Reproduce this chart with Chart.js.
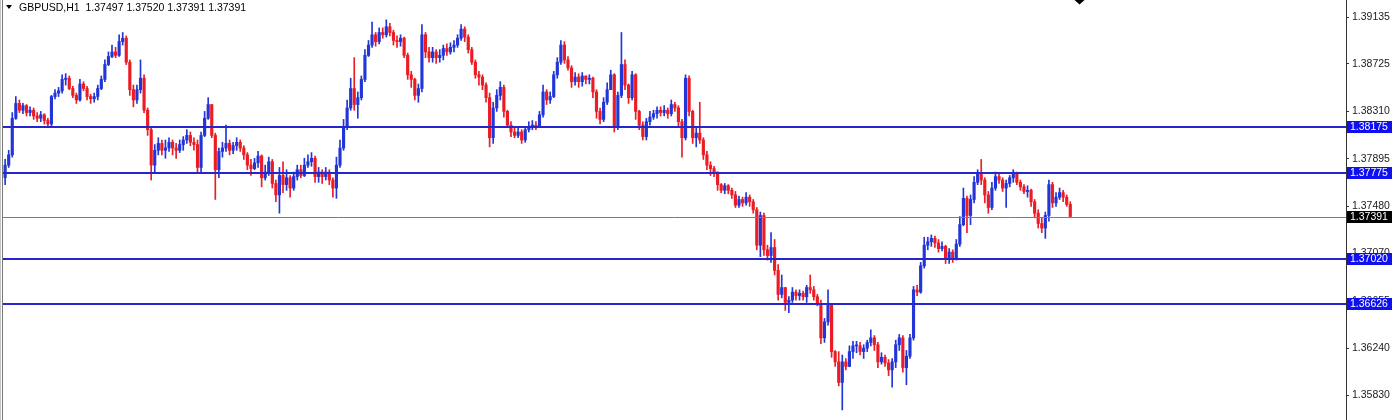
<!DOCTYPE html>
<html lang="en">
<head>
<meta charset="UTF-8">
<title>GBPUSD,H1</title>
<style>
  html, body { margin: 0; padding: 0; background: #fff; }
  #wrap { width: 1400px; height: 420px; position: relative; }
</style>
</head>
<body>
<div id="wrap"><canvas id="chart" width="1400" height="420"></canvas></div>
<script src="https://cdn.jsdelivr.net/npm/chart.js"></script>
<script>
// GBPUSD H1 candles (open = previous close)
const symbolTitle = 'GBPUSD,H1';
const lastOHLC = [1.37497, 1.37520, 1.37391, 1.37391];
const firstOpen = 1.3773;

const closes = [
  1.3784,1.3793,1.3825,1.3838,1.3832,1.3836,1.3830,1.3832,1.3827,1.3825,
  1.3828,1.3823,1.3820,1.3844,1.3847,1.3849,1.3859,1.3860,1.3851,1.3845,
  1.3841,1.3855,1.3851,1.3844,1.3842,1.3844,1.3851,1.3859,1.3872,1.3879,
  1.3883,1.3880,1.3892,1.3895,1.3874,1.3850,1.3841,1.3850,1.3860,1.3832,
  1.3815,1.3784,1.3797,1.3803,1.3797,1.3799,1.3804,1.3799,1.3797,1.3802,
  1.3806,1.3810,1.3804,1.3802,1.3782,1.3810,1.3825,1.3837,1.3810,1.3780,
  1.3796,1.3799,1.3803,1.3797,1.3801,1.3804,1.3799,1.3793,1.3784,1.3781,
  1.3786,1.3792,1.3773,1.3778,1.3787,1.3768,1.3758,1.3775,1.3767,1.3773,
  1.3764,1.3774,1.3780,1.3775,1.3784,1.3787,1.3790,1.3774,1.3778,1.3774,
  1.3778,1.3771,1.3764,1.3784,1.3799,1.3817,1.3834,1.3851,1.3837,1.3843,
  1.3859,1.3880,1.3889,1.3898,1.3892,1.3900,1.3898,1.3905,1.3900,1.3893,
  1.3892,1.3895,1.3880,1.3863,1.3859,1.3845,1.3851,1.3898,1.3883,1.3878,
  1.3883,1.3878,1.3880,1.3886,1.3883,1.3887,1.3889,1.3895,1.3903,1.3896,
  1.3885,1.3874,1.3863,1.3861,1.3854,1.3843,1.3808,1.3834,1.3845,1.3852,
  1.3831,1.3819,1.3813,1.3810,1.3813,1.3806,1.3815,1.3817,1.3819,1.3817,
  1.3828,1.3848,1.3841,1.3844,1.3863,1.3874,1.3889,1.3876,1.3869,1.3857,
  1.3861,1.3857,1.3862,1.3859,1.3860,1.3848,1.3831,1.3824,1.3839,1.3850,
  1.3863,1.3817,1.3845,1.3872,1.3854,1.3843,1.3863,1.3831,1.3819,1.3809,
  1.3822,1.3826,1.3829,1.3832,1.3830,1.3832,1.3829,1.3837,1.3834,1.3822,
  1.3808,1.3860,1.3831,1.3808,1.3812,1.3806,1.3793,1.3784,1.3781,1.3778,
  1.3767,1.3762,1.3766,1.3762,1.3758,1.3749,1.3754,1.3751,1.3756,1.3752,
  1.3745,1.3714,1.3740,1.3710,1.3705,1.3712,1.3692,1.3671,1.3677,1.3664,
  1.3666,1.3673,1.3670,1.3672,1.3669,1.3677,1.3675,1.3669,1.3663,1.3633,
  1.3647,1.3662,1.3621,1.3612,1.3594,1.3612,1.3608,1.3621,1.3626,1.3626,
  1.3621,1.3624,1.3629,1.3633,1.3627,1.3612,1.3616,1.3611,1.3605,1.3612,
  1.3627,1.3633,1.3607,1.3617,1.3633,1.3675,1.3673,1.3696,1.3714,1.3717,
  1.3720,1.3716,1.3711,1.3713,1.3703,1.3708,1.3703,1.3715,1.3732,1.3755,
  1.3740,1.3754,1.3769,1.3776,1.3771,1.3758,1.3747,1.3764,1.3774,1.3771,
  1.3764,1.3768,1.3773,1.3777,1.3769,1.3765,1.3761,1.3762,1.3752,1.3742,
  1.3733,1.3729,1.3740,1.3767,1.3751,1.3756,1.3760,1.3756,1.37497,1.37391
];

const highs = [
  1.3789,1.3797,1.3830,1.3844,1.3841,1.3838,1.3837,1.3835,1.3834,1.3830,
  1.3831,1.3829,1.3825,1.3845,1.3850,1.3852,1.3863,1.3864,1.3862,1.3853,
  1.3847,1.3859,1.3857,1.3853,1.3846,1.3847,1.3854,1.3862,1.3876,1.3883,
  1.3889,1.3887,1.3898,1.3900,1.3897,1.3876,1.3854,1.3854,1.3876,1.3863,
  1.3834,1.3817,1.3802,1.3808,1.3806,1.3806,1.3808,1.3806,1.3803,1.3806,
  1.3809,1.3815,1.3813,1.3808,1.3806,1.3813,1.3831,1.3843,1.3837,1.3812,
  1.3799,1.3804,1.3819,1.3806,1.3804,1.3808,1.3806,1.3801,1.3795,1.3789,
  1.3790,1.3796,1.3793,1.3784,1.3791,1.3789,1.3771,1.3782,1.3787,1.3780,
  1.3775,1.3778,1.3784,1.3784,1.3790,1.3793,1.3795,1.3792,1.3782,1.3780,
  1.3782,1.3780,1.3773,1.3791,1.3806,1.3824,1.3841,1.3860,1.3878,1.3848,
  1.3862,1.3885,1.3893,1.3909,1.3900,1.3904,1.3904,1.3911,1.3908,1.3902,
  1.3897,1.3898,1.3896,1.3882,1.3866,1.3860,1.3855,1.3907,1.3900,1.3887,
  1.3887,1.3885,1.3885,1.3889,1.3890,1.3891,1.3893,1.3898,1.3907,1.3905,
  1.3898,1.3887,1.3876,1.3866,1.3863,1.3856,1.3847,1.3839,1.3850,1.3857,
  1.3854,1.3832,1.3822,1.3817,1.3817,1.3815,1.3817,1.3822,1.3823,1.3822,
  1.3831,1.3854,1.3850,1.3848,1.3866,1.3878,1.3893,1.3892,1.3879,1.3871,
  1.3865,1.3864,1.3865,1.3862,1.3863,1.3861,1.3850,1.3834,1.3843,1.3856,
  1.3867,1.3864,1.3848,1.3900,1.3876,1.3855,1.3866,1.3864,1.3832,1.3822,
  1.3825,1.3831,1.3832,1.3835,1.3835,1.3836,1.3834,1.3841,1.3839,1.3836,
  1.3824,1.3863,1.3862,1.3832,1.3817,1.3839,1.3808,1.3796,1.3787,1.3783,
  1.3778,1.3768,1.3768,1.3767,1.3764,1.3761,1.3757,1.3756,1.3760,1.3758,
  1.3754,1.3747,1.3743,1.3742,1.3714,1.3725,1.3719,1.3697,1.3688,1.3677,
  1.3669,1.3677,1.3675,1.3675,1.3674,1.3679,1.3688,1.3678,1.3671,1.3666,
  1.3650,1.3675,1.3663,1.3622,1.3621,1.3618,1.3615,1.3626,1.3630,1.3630,
  1.3629,1.3627,1.3631,1.3640,1.3635,1.3629,1.3620,1.3618,1.3614,1.3615,
  1.3631,1.3636,1.3635,1.3622,1.3636,1.3678,1.3679,1.3699,1.3721,1.3721,
  1.3723,1.3722,1.3719,1.3717,1.3714,1.3711,1.3710,1.3719,1.3739,1.3764,
  1.3757,1.3758,1.3774,1.3780,1.3789,1.3773,1.3761,1.3769,1.3778,1.3777,
  1.3773,1.3771,1.3775,1.3780,1.3778,1.3771,1.3767,1.3766,1.3763,1.3754,
  1.3745,1.3738,1.3743,1.3771,1.3769,1.3760,1.3764,1.3762,1.3758,1.37520
];

const lows = [
  1.3767,1.3782,1.3791,1.3824,1.3830,1.3829,1.3827,1.3827,1.3824,1.3822,
  1.3822,1.3820,1.3817,1.3817,1.3842,1.3844,1.3847,1.3854,1.3850,1.3843,
  1.3838,1.3840,1.3849,1.3841,1.3838,1.3839,1.3841,1.3850,1.3857,1.3871,
  1.3878,1.3878,1.3879,1.3889,1.3872,1.3845,1.3835,1.3838,1.3847,1.3830,
  1.3810,1.3771,1.3778,1.3793,1.3793,1.3790,1.3796,1.3793,1.3790,1.3795,
  1.3797,1.3803,1.3801,1.3797,1.3777,1.3778,1.3809,1.3824,1.3808,1.3754,
  1.3773,1.3791,1.3796,1.3793,1.3794,1.3797,1.3796,1.3789,1.3780,1.3775,
  1.3780,1.3782,1.3765,1.3771,1.3775,1.3764,1.3752,1.3742,1.3760,1.3762,
  1.3756,1.3762,1.3771,1.3773,1.3774,1.3782,1.3783,1.3769,1.3769,1.3768,
  1.3771,1.3767,1.3756,1.3755,1.3782,1.3797,1.3815,1.3832,1.3832,1.3825,
  1.3841,1.3857,1.3879,1.3887,1.3888,1.3890,1.3895,1.3896,1.3897,1.3889,
  1.3887,1.3888,1.3878,1.3859,1.3852,1.3841,1.3839,1.3848,1.3878,1.3874,
  1.3874,1.3873,1.3874,1.3876,1.3880,1.3881,1.3883,1.3887,1.3893,1.3892,
  1.3882,1.3872,1.3860,1.3854,1.3850,1.3839,1.3800,1.3803,1.3831,1.3841,
  1.3826,1.3817,1.3809,1.3808,1.3808,1.3803,1.3804,1.3813,1.3815,1.3815,
  1.3817,1.3826,1.3837,1.3838,1.3843,1.3860,1.3872,1.3873,1.3867,1.3852,
  1.3854,1.3852,1.3853,1.3855,1.3855,1.3843,1.3825,1.3820,1.3822,1.3837,
  1.3850,1.3813,1.3815,1.3843,1.3850,1.3838,1.3841,1.3824,1.3815,1.3806,
  1.3806,1.3819,1.3824,1.3825,1.3827,1.3827,1.3825,1.3827,1.3831,1.3818,
  1.3791,1.3806,1.3827,1.3803,1.3800,1.3803,1.3789,1.3780,1.3775,1.3774,
  1.3762,1.3760,1.3759,1.3759,1.3755,1.3747,1.3747,1.3748,1.3749,1.3748,
  1.3742,1.3710,1.3704,1.3705,1.3701,1.3699,1.3688,1.3666,1.3668,1.3657,
  1.3655,1.3664,1.3666,1.3666,1.3666,1.3664,1.3672,1.3666,1.3661,1.3628,
  1.3629,1.3644,1.3616,1.3608,1.3591,1.3570,1.3605,1.3608,1.3615,1.3620,
  1.3618,1.3615,1.3621,1.3626,1.3622,1.3607,1.3610,1.3608,1.3600,1.3590,
  1.3607,1.3622,1.3603,1.3592,1.3615,1.3631,1.3670,1.3672,1.3694,1.3710,
  1.3713,1.3712,1.3708,1.3709,1.3698,1.3698,1.3699,1.3701,1.3713,1.3731,
  1.3725,1.3732,1.3751,1.3767,1.3767,1.3751,1.3742,1.3745,1.3762,1.3768,
  1.3761,1.3747,1.3765,1.3769,1.3767,1.3762,1.3759,1.3756,1.3748,1.3738,
  1.3729,1.3725,1.3720,1.3735,1.3747,1.3748,1.3754,1.3752,1.3748,1.37391
];

const priceTicks = [1.39135, 1.38725, 1.38310, 1.37895, 1.37480, 1.37070, 1.36655, 1.36240, 1.35830];
const levels = [1.38175, 1.37775, 1.37020, 1.36626];
const bidPrice = 1.37391;

// visible price range and empty bars to the right (chart shift)
const yTop = 1.39284;
const yBottom = 1.35612;
const shiftBars = 77;

const BULL = '#2236d8';
const BEAR = '#ec1c24';
const LEVEL = '#2626cc';
const FONT = 'Liberation Sans, Arial, sans-serif';

const opens = closes.map((c, i) => i === 0 ? firstOpen : closes[i - 1]);
const colors = closes.map((c, i) => c >= opens[i] ? BULL : BEAR);

const bodies = closes.map((c, i) => ({ x: i, y: [opens[i], c] }));
const wicks = closes.map((c, i) => ({
  x: i,
  y: [Math.min(lows[i], opens[i], c), Math.max(highs[i], opens[i], c)]
}));

const overlay = {
  id: 'overlay',
  afterDatasetsDraw(chart) {
    const { ctx, chartArea: a, scales: { y } } = chart;
    ctx.save();
    // bid line
    const by = Math.round(y.getPixelForValue(bidPrice)) + 0.5;
    ctx.strokeStyle = '#7c7c7c';
    ctx.lineWidth = 1;
    ctx.beginPath(); ctx.moveTo(a.left, by); ctx.lineTo(a.right, by); ctx.stroke();
    // horizontal levels
    ctx.strokeStyle = LEVEL;
    ctx.lineWidth = 2;
    levels.forEach(v => {
      const p = Math.round(y.getPixelForValue(v));
      ctx.beginPath(); ctx.moveTo(a.left, p); ctx.lineTo(a.right, p); ctx.stroke();
    });
    ctx.restore();
  },
  afterDraw(chart) {
    const { ctx, chartArea: a, scales: { x, y } } = chart;
    ctx.save();
    ctx.font = '10.5px ' + FONT;
    ctx.textBaseline = 'middle';

    // price labels on the axis
    const tag = (v, bg) => {
      const p = Math.round(y.getPixelForValue(v));
      ctx.fillStyle = bg;
      ctx.fillRect(a.right + 1, p - 6, 45, 12);
      ctx.fillStyle = '#fff';
      ctx.fillText(v.toFixed(5), a.right + 4, p + 0.5);
    };
    levels.forEach(v => tag(v, '#1010ee'));
    tag(bidPrice, '#000');

    // title
    ctx.fillStyle = '#000';
    ctx.beginPath(); ctx.moveTo(6, 5); ctx.lineTo(12, 5); ctx.lineTo(9, 9); ctx.closePath(); ctx.fill();
    ctx.fillText(symbolTitle + '  ' + lastOHLC.map(v => v.toFixed(5)).join(' '), 19, 8);

    // chart shift marker
    const sx = x.getPixelForValue(closes.length + 1.6);
    ctx.beginPath(); ctx.moveTo(sx - 5, 0); ctx.lineTo(sx + 5, 0); ctx.lineTo(sx, 4.5); ctx.closePath(); ctx.fill();

    // left frame
    ctx.fillStyle = '#c4c4c4';
    ctx.fillRect(0, 0, 1, 420);
    ctx.fillStyle = '#777';
    ctx.fillRect(2, 0, 1, 420);
    ctx.restore();
  }
};

new Chart(document.getElementById('chart'), {
  type: 'bar',
  data: {
    datasets: [
      { data: bodies, backgroundColor: colors, barThickness: 2.5, minBarLength: 1, grouped: false, borderWidth: 0 },
      { data: wicks, backgroundColor: colors, barThickness: 1, grouped: false, borderWidth: 0 }
    ]
  },
  options: {
    responsive: false,
    animation: false,
    devicePixelRatio: 1,
    events: [],
    layout: { padding: { left: 3, top: 0, right: 0, bottom: 0 } },
    plugins: { legend: { display: false }, tooltip: { enabled: false } },
    scales: {
      x: {
        type: 'linear',
        display: false,
        offset: false,
        min: -0.6,
        max: closes.length - 0.6 + shiftBars
      },
      y: {
        position: 'right',
        min: yBottom,
        max: yTop,
        afterBuildTicks: s => { s.ticks = priceTicks.map(v => ({ value: v })); },
        afterFit: s => { s.width = 54; s.paddingTop = 0; s.paddingBottom = 0; },
        border: { display: true, color: '#333' },
        grid: { drawOnChartArea: false, tickLength: 3, tickColor: '#333' },
        ticks: {
          autoSkip: false,
          padding: 3,
          color: '#1a1a1a',
          font: { family: FONT, size: 10.5 },
          callback: v => v.toFixed(5)
        }
      }
    }
  },
  plugins: [overlay]
});
</script>
</body>
</html>
